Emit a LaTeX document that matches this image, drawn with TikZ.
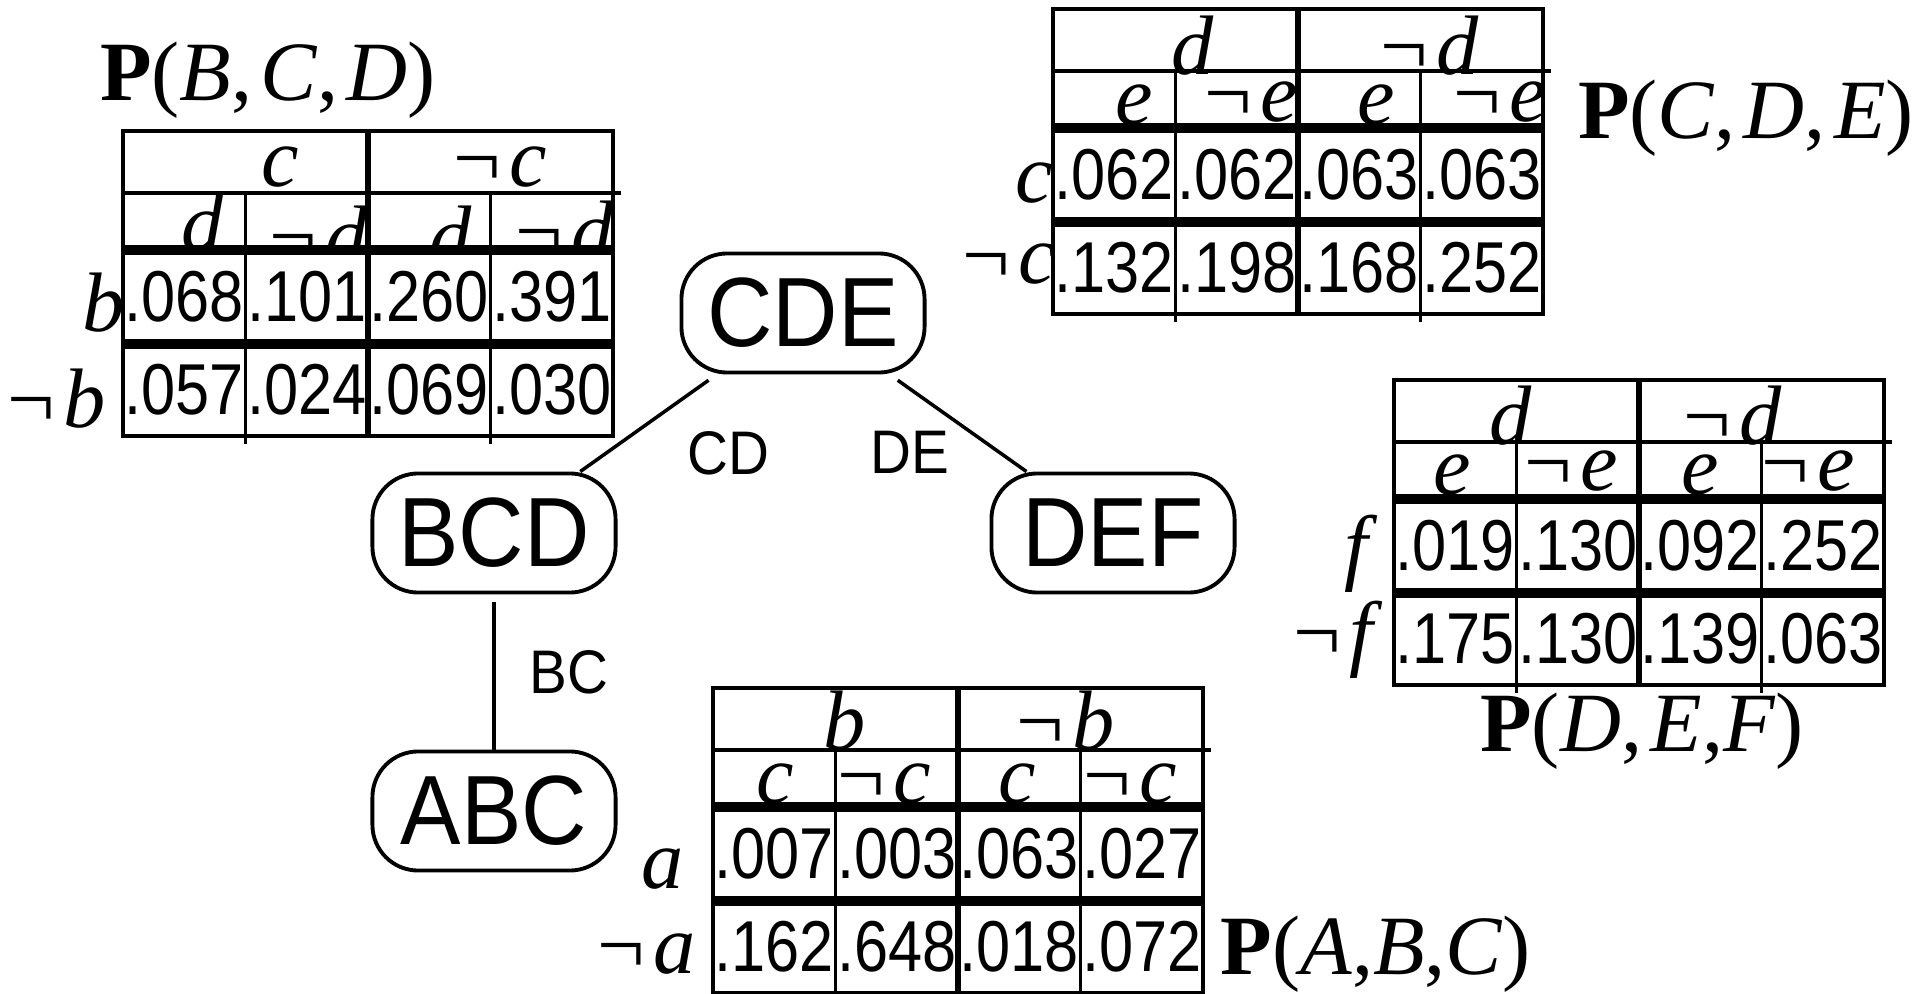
\documentclass[tikz,border=0pt]{standalone}
\usepackage{fontspec}
\setmainfont{Liberation Serif}
\setsansfont{Liberation Sans}[FakeStretch=0.92]
\newfontfamily\numfont{Liberation Sans}[FakeStretch=0.85]
\usetikzlibrary{matrix,positioning}

\newcommand{\notv}{\textup{¬}\kern0.1em}
% grid of one table, drawn in the table's own frame
\newcommand{\cpgrid}{%
  \draw [line width=1.4pt] (0,0) rectangle (490,305) ;
  \draw [gridthin] (0,62) -- (498,62) (122.5,62) -- (122.5,313)
                   (367.5,62) -- (367.5,313) ;
  \draw [line width=1.8pt] (245,0) -- (245,305) ;
  \draw [gridthick] (0,119) -- (490,119) (0,213) -- (490,213) ;
}

\tikzset{
  clique/.style={draw,line width=1.1pt,rounded corners=13pt,
                 minimum width=2.43cm,minimum height=1.19cm,inner sep=0pt,
                 font=\sffamily\fontsize{28}{30}\selectfont},
  seplabel/.style={font=\sffamily\fontsize{17.5}{20}\selectfont,inner sep=0pt},
  link/.style={line width=1pt},
  var/.style={font=\fontsize{24}{28}\selectfont\itshape,inner sep=0pt},
  cptitle/.style={font=\fontsize{24}{28}\selectfont,inner sep=0pt},
  cpt/.style={matrix of nodes,column sep={1.225cm,between origins},
              row sep={0.93cm,between origins},
              nodes={font=\numfont\fontsize{20.5}{24}\selectfont,inner sep=0pt}},
  gridthin/.style={line width=0.9pt},
  gridthick/.style={line width=2.6pt},
}

\begin{document}
\begin{tikzpicture}[x=0.01cm,y=-0.01cm]
  \useasboundingbox (0,0) rectangle (1917,994) ;
%
  \node [clique] (cde) at (803,313) {CDE} ;
  \node [clique] (bcd) at (494,533) {BCD} ;
  \node [clique] (def) at (1113,533) {DEF} ;
  \node [clique] (abc) at (494,811) {ABC} ;
%
  \draw [link,shorten <=0.1cm] (cde) -- (bcd)
    node [seplabel,midway,anchor=north west,xshift=0.37cm,yshift=-0.065cm] (cdsep) {CD} ;
  \draw [link,shorten <=0.1cm] (cde) -- (def)
    node [seplabel,midway,anchor=north east,xshift=-0.07cm,yshift=-0.065cm] (desep) {DE} ;
  \draw [link,shorten <=0.08cm] (bcd) -- (abc)
    node [seplabel,midway,anchor=west,xshift=0.34cm] (bcsep) {BC} ;
%
  % P(B,C,D)
  \begin{scope}[shift={(123,131)}]
    \begin{scope}
      \clip (-30,-30) rectangle (530,119) ;
      \node [var] (bcdc)  at (157,36)  {c} ;
      \node [var] (bcdnc) at (377,36)  {\notv c} ;
      \node [var] (bcdd1) at (80,92)   {d} ;
      \node [var] (bcdn1) at (196,105) {\notv d} ;
      \node [var] (bcdd2) at (328,105) {d} ;
      \node [var] (bcdn2) at (442,100) {\notv d} ;
    \end{scope}
    \cpgrid
    \matrix [cpt] (bcdval) at (245,212.5) {
      .068 & .101 & .260 & .391 \\
      .057 & .024 & .069 & .030 \\
    } ;
    \node [var] (bcdb)  at (-19,172) {b} ;
    \node [var] (bcdnb) at (-66,268) {\notv b} ;
    \node [cptitle] (bcdtitle) at (145,-51) {\textbf{P}(\textit{B},\kern0.1em\textit{C},\kern0.1em\textit{D})} ;
  \end{scope}
%
  % P(C,D,E)
  \begin{scope}[shift={(1053,9)}]
    \begin{scope}
      \clip (-30,-30) rectangle (530,119) ;
      \node [var] (cded)  at (140,37) {d} ;
      \node [var] (cdend) at (377,37) {\notv d} ;
      \node [var] (cdee1) at (81,96)  {e} ;
      \node [var] (cden1) at (198,93) {\notv e} ;
      \node [var] (cdee2) at (323,96) {e} ;
      \node [var] (cden2) at (447,93) {\notv e} ;
    \end{scope}
    \cpgrid
    \matrix [cpt] (cdeval) at (245,212.5) {
      .062 & .062 & .063 & .063 \\
      .132 & .198 & .168 & .252 \\
    } ;
    \node [var] (cdec)  at (-19,174) {c} ;
    \node [var] (cdenc) at (-44,255) {\notv c} ;
    \node [cptitle] (cdetitle) at (693,109) {\textbf{P}(\textit{C},\kern0.1em\textit{D},\kern0.1em\textit{E})} ;
  \end{scope}
%
  % P(D,E,F)
  \begin{scope}[shift={(1394,380)}]
    \begin{scope}
      \clip (-30,-30) rectangle (530,119) ;
      \node [var] (defd)  at (117,36) {d} ;
      \node [var] (defnd) at (339,36) {\notv d} ;
      \node [var] (defe1) at (58,95)  {e} ;
      \node [var] (defn1) at (177,91) {\notv e} ;
      \node [var] (defe2) at (306,95) {e} ;
      \node [var] (defn2) at (414,91) {\notv e} ;
    \end{scope}
    \cpgrid
    \matrix [cpt] (defval) at (245,212.5) {
      .019 & .130 & .092 & .252 \\
      .175 & .130 & .139 & .063 \\
    } ;
    \node [var] (deff)  at (-38,174) {f} ;
    \node [var] (defnf) at (-61,260) {\notv f} ;
    \node [cptitle] (deftitle) at (248,351) {\textbf{P}(\textit{D},\kern0.1em\textit{E},\textit{F})} ;
  \end{scope}
%
  % P(A,B,C)
  \begin{scope}[shift={(713,688)}]
    \begin{scope}
      \clip (-30,-30) rectangle (530,119) ;
      \node [var] (abcb)  at (132,33) {b} ;
      \node [var] (abcnb) at (353,33) {\notv b} ;
      \node [var] (abcc1) at (62,96)  {c} ;
      \node [var] (abcn1) at (171,96) {\notv c} ;
      \node [var] (abcc2) at (304,96) {c} ;
      \node [var] (abcn2) at (417,96) {\notv c} ;
    \end{scope}
    \cpgrid
    \matrix [cpt] (abcval) at (245,212.5) {
      .007 & .003 & .063 & .027 \\
      .162 & .648 & .018 & .072 \\
    } ;
    \node [var] (abca)  at (-50,181) {a} ;
    \node [var] (abcna) at (-66,266) {\notv a} ;
    \node [cptitle] (abctitle) at (663,266) {\textbf{P}(\textit{A},\textit{B},\textit{C})} ;
  \end{scope}
\end{tikzpicture}
\end{document}
